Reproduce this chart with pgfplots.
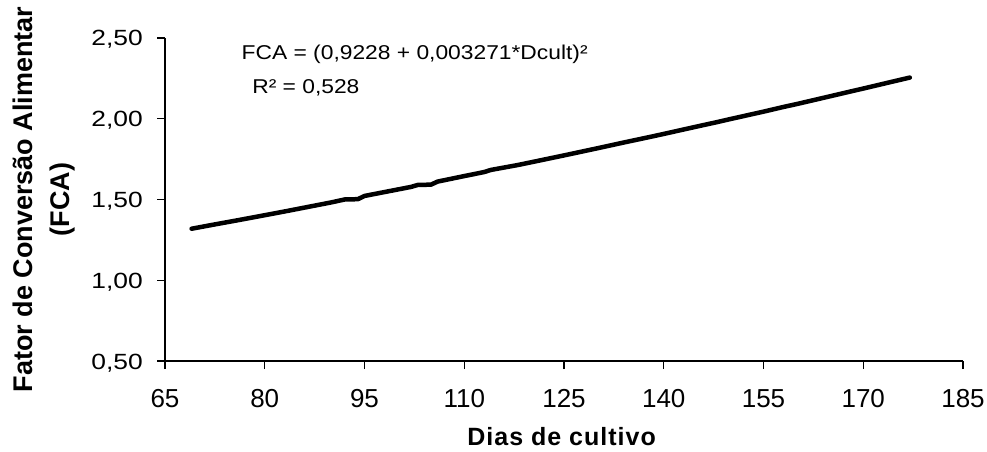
\documentclass[border=0pt]{standalone}
\usepackage{fontspec}
\setmainfont{Liberation Sans}
\newfontfamily\ytfont{Liberation Sans}[FakeStretch=1.2]
\newfontfamily\annfont{Liberation Sans}[FakeStretch=1.14]
\usepackage{pgfplots}
\pgfplotsset{compat=1.18}

\begin{document}
\begin{tikzpicture}
\begin{axis}[
    scale only axis,
    width=798pt, height=323pt,
    xmin=65, xmax=185,
    ymin=0.5, ymax=2.5,
    xtick={65,80,...,185},
    ytick={0.5,1,1.5,2,2.5},
    axis x line*=bottom,
    axis y line*=left,
    axis line style={line width=1.2pt},
    tick align=outside,
    major tick length=8pt,
    tick style={line width=1.2pt, black},
    /pgf/number format/assume math mode=true,
    xticklabel style={font=\fontsize{26}{30}\selectfont, anchor=north, inner sep=0pt,
        text height=19pt, text depth=0pt,
        /pgf/number format/.cd, fixed, precision=0},
    xticklabel shift=19pt,
    yticklabel style={font=\ytfont\fontsize{22}{26}\selectfont, anchor=east, inner sep=0pt,
        text height=16pt, text depth=0pt,
        /pgf/number format/.cd, fixed, fixed zerofill, precision=2, use comma},
    yticklabel shift=14pt,
    xlabel={\addfontfeature{LetterSpace=4}Dias de cultivo},
    xlabel style={font=\bfseries\fontsize{25}{29}\selectfont, inner sep=0pt,
        at={(axis description cs:0.497,-0.262)}, anchor=base},
    ylabel={Fator de Conversão Alimentar\\(FCA)},
    ylabel style={font=\bfseries\fontsize{27}{37}\selectfont, align=center, inner sep=0pt,
        at={(axis description cs:-0.1905,0.5)}, anchor=north, rotate=0},
    clip=false,
]
% Curva ajustada FCA x dias de cultivo
\addplot[black, line width=4.5pt, line join=round, line cap=round] coordinates {
    (69,1.319) (72,1.342) (76,1.372) (79,1.395) (83,1.426) (86,1.450)
    (90,1.482) (92,1.500) (94,1.502) (95,1.522) (97,1.538) (100,1.562)
    (102,1.578) (103,1.590) (105,1.592) (106,1.611) (108,1.628)
    (110,1.645) (113,1.670) (114,1.683) (118,1.713) (120,1.730)
    (125,1.773) (130,1.817) (134,1.853) (138,1.888) (140,1.906)
    (145,1.952) (148,1.979) (150,1.998) (155,2.044) (158,2.073)
    (160,2.091) (165,2.139) (168,2.168) (170,2.187) (174,2.226) (177,2.255)
};
\node[anchor=base west, font=\annfont\fontsize{20}{24}\selectfont, inner sep=0pt] at (axis cs:76.5,2.364) {FCA = (0,9228 + 0,003271*Dcult)²};
\node[anchor=base west, font=\annfont\fontsize{20}{24}\selectfont, inner sep=0pt] at (axis cs:78.1,2.159) {R² = 0,528};
\coordinate (bl) at (rel axis cs:0,0);
\end{axis}
\path (bl) ++(-165pt,-91pt) coordinate (p1);
\path (bl) ++(822pt,361pt) coordinate (p2);
\pgfresetboundingbox
\path[use as bounding box] (p1) rectangle (p2);
\end{tikzpicture}
\end{document}
